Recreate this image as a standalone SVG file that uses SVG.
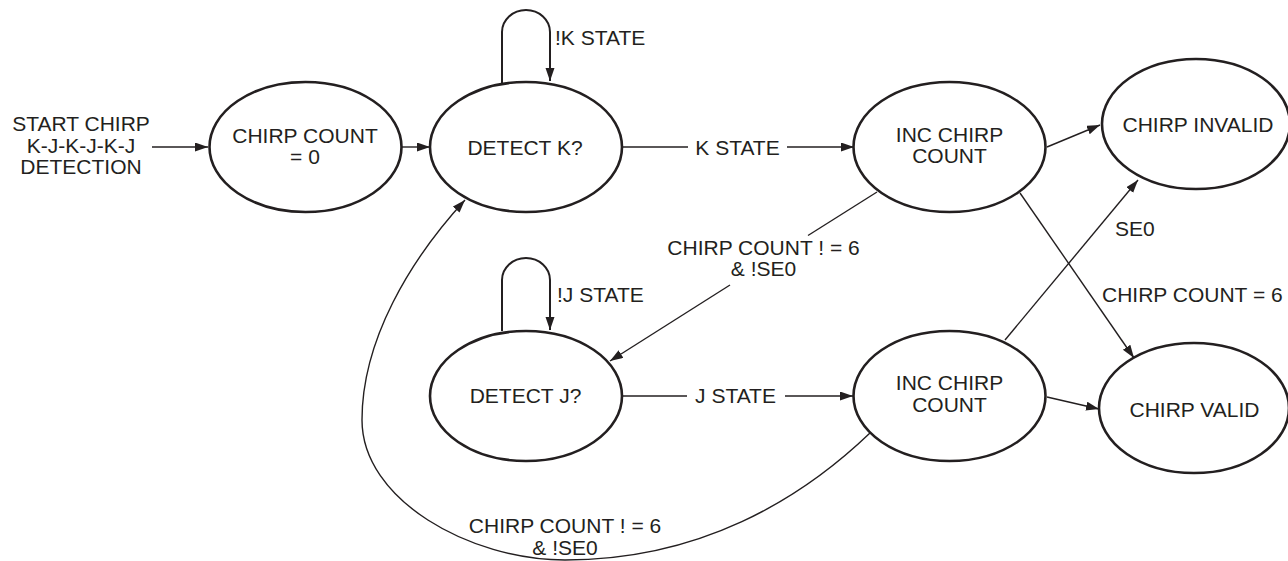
<svg xmlns="http://www.w3.org/2000/svg" width="1288" height="561" viewBox="0 0 1288 561">
<defs>
<marker id="ah" markerUnits="userSpaceOnUse" markerWidth="14" markerHeight="10" refX="13" refY="4.5" orient="auto">
<path d="M0,0 L13,4.5 L0,9 z" fill="#231f20"/>
</marker>
<style>
.st{fill:#fff;stroke:#231f20;stroke-width:2.6}
.ln{fill:none;stroke:#231f20;stroke-width:1.4}
.ar{fill:none;stroke:#231f20;stroke-width:1.4;marker-end:url(#ah)}
.lpa{fill:none;stroke:#231f20;stroke-width:2;marker-end:url(#ah)}
text{font-family:"Liberation Sans",Arial,sans-serif;font-size:21px;fill:#231f20}
.c{text-anchor:middle}
</style>
</defs>
<rect width="1288" height="561" fill="#fff"/>
<g id="connectors">
<line class="ar" x1="152" y1="147" x2="208" y2="147"/>
<line class="ar" x1="402" y1="147" x2="430" y2="147"/>
<line class="ln" x1="622" y1="147" x2="688" y2="147"/>
<line class="ar" x1="787" y1="147" x2="854" y2="147"/>
<path class="lpa" d="M502,83 V32 A24,22 0 0 1 550,32 V81"/>
<path class="lpa" d="M502,331 V280 A24,22 0 0 1 550,280 V330"/>
<line class="ln" x1="621" y1="396" x2="687" y2="396"/>
<line class="ar" x1="785" y1="396" x2="853" y2="396"/>
<line class="ar" x1="1047" y1="147" x2="1100" y2="125"/>
<line class="ar" x1="1020" y1="193" x2="1134" y2="358"/>
<line class="ln" x1="877" y1="192" x2="808" y2="235.5"/>
<line class="ar" x1="730" y1="285" x2="610" y2="361"/>
<line class="ar" x1="1005" y1="340" x2="1138" y2="180"/>
<line class="ar" x1="1047" y1="397" x2="1099" y2="409"/>
<path class="ar" d="M870,433 C800,500 700,560 565,560 C470,560 362,500 362,420 C362,340 410,260 465,200"/>
</g>
<g id="start">
<text class="c" x="81" y="131">START CHIRP</text>
<text class="c" x="81" y="153">K-J-K-J-K-J</text>
<text class="c" x="81" y="174">DETECTION</text>
</g>
<g id="count0">
<ellipse class="st" cx="305.5" cy="147" rx="96" ry="65"/>
<text class="c" x="305" y="143">CHIRP COUNT</text>
<text class="c" x="305" y="164">= 0</text>
</g>
<g id="detectK">
<ellipse class="st" cx="526" cy="147" rx="96" ry="65"/>
<text class="c" x="525" y="155">DETECT K?</text>
</g>
<g id="incTop">
<ellipse class="st" cx="949.5" cy="147" rx="96" ry="65"/>
<text class="c" x="949.5" y="142">INC CHIRP</text>
<text class="c" x="949.5" y="163">COUNT</text>
</g>
<g id="invalid">
<ellipse class="st" cx="1196" cy="124" rx="94" ry="65"/>
<text class="c" x="1198" y="132">CHIRP INVALID</text>
</g>
<g id="detectJ">
<ellipse class="st" cx="526" cy="396" rx="96" ry="65"/>
<text class="c" x="525.5" y="403">DETECT J?</text>
</g>
<g id="incBottom">
<ellipse class="st" cx="949.5" cy="396" rx="96" ry="65"/>
<text class="c" x="949.5" y="390">INC CHIRP</text>
<text class="c" x="949.5" y="412">COUNT</text>
</g>
<g id="valid">
<ellipse class="st" cx="1194" cy="408" rx="95" ry="65"/>
<text class="c" x="1194.5" y="417">CHIRP VALID</text>
</g>
<g id="labels">
<text x="555" y="45">!K STATE</text>
<text class="c" x="737.5" y="155">K STATE</text>
<text x="557" y="302">!J STATE</text>
<text class="c" x="735.5" y="403">J STATE</text>
<text class="c" x="763.5" y="255">CHIRP COUNT ! = 6</text>
<text class="c" x="763.5" y="276">&amp; !SE0</text>
<text x="1115" y="236">SE0</text>
<text x="1102" y="302">CHIRP COUNT = 6</text>
<text class="c" x="565" y="533">CHIRP COUNT ! = 6</text>
<text class="c" x="565" y="555">&amp; !SE0</text>
</g>
</svg>
